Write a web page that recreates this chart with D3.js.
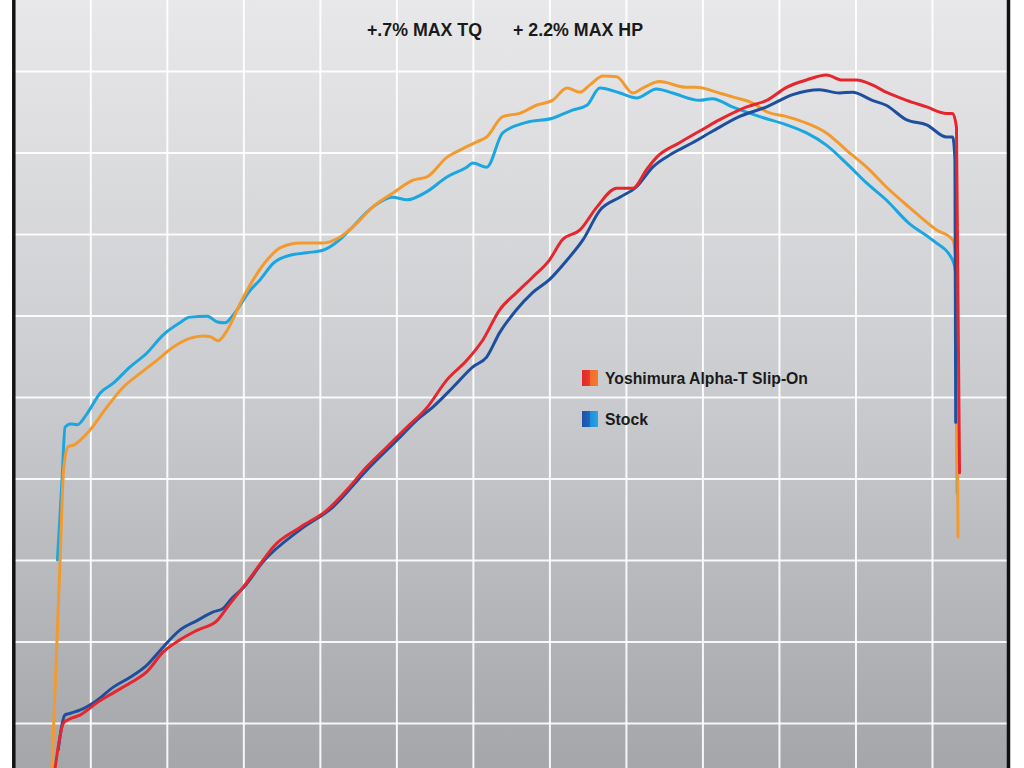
<!DOCTYPE html>
<html>
<head>
<meta charset="utf-8">
<script src="https://cdn.jsdelivr.net/npm/d3@7"></script>
<style>
  html, body { margin: 0; padding: 0; background: #ffffff; }
  svg { display: block; }
</style>
</head>
<body>
<svg id="chart" width="1024" height="768"></svg>
<script>
// ---- DATA (rpm, value) ----
const rpmTicks = [1000, 2000, 3000, 4000, 5000, 6000, 7000, 8000, 9000, 10000, 11000, 12000];
const valueTicks = [0, 10, 20, 30, 40, 50, 60, 70, 80];

const titleTQ = "+.7% MAX TQ";
const titleHP = "+ 2.2% MAX HP";
const legendLabels = ["Yoshimura Alpha-T Slip-On", "Stock"];

const yoshiTQ = [
  [500,-5.5],[610,21.2],[650,31.0],[710,33.9],[780,34.1],[1000,36.0],[1220,38.8],[1430,41.2],
  [1650,42.9],[1870,44.5],[2080,46.1],[2300,47.2],[2470,47.5],[2570,47.4],[2670,46.9],[2790,48.2],
  [2960,51.5],[3130,54.4],[3310,56.8],[3480,58.3],[3740,58.9],[4040,58.9],[4260,59.6],[4480,61.3],
  [4690,63.3],[4950,65.0],[5220,66.6],[5400,67.0],[5660,69.4],[5830,70.3],[6050,71.3],[6180,71.9],
  [6390,74.4],[6610,74.8],[6830,75.8],[7040,76.4],[7230,77.9],[7400,77.4],[7530,78.3],[7700,79.4],
  [7880,79.3],[8090,77.3],[8220,77.9],[8440,78.7],[8790,78.0],[8920,78.0],[9220,77.3],[9440,76.7],
  [9650,76.1],[9840,75.0],[10100,74.4],[10360,73.6],[10620,72.4],[10880,70.3],[11180,67.9],
  [11400,65.8],[11700,63.3],[12060,60.5],[12270,59.3],[12320,56.0],[12340,22.8]
];

const stockTQ = [
  [570,20.0],[630,29.8],[670,36.3],[740,36.7],[830,36.6],[960,38.0],[1130,40.5],[1300,41.7],
  [1520,43.7],[1740,45.4],[1950,47.6],[2170,49.1],[2300,49.8],[2530,49.9],[2660,49.2],[2760,49.1],
  [2870,50.1],[3090,53.1],[3220,54.4],[3390,56.4],[3610,57.4],[3830,57.7],[4040,58.0],[4260,59.3],
  [4390,60.5],[4690,63.3],[4950,64.5],[5140,64.2],[5400,65.2],[5660,67.0],[5920,68.2],[6000,68.7],
  [6180,68.2],[6390,72.4],[6700,73.7],[7040,74.2],[7300,75.2],[7490,75.8],[7660,77.9],[7920,77.3],
  [8140,76.7],[8400,77.8],[8610,77.3],[8960,76.4],[9130,76.6],[9390,75.6],[9750,74.4],[10100,73.4],
  [10360,72.4],[10620,70.9],[10880,68.7],[11140,66.3],[11400,64.2],[11700,61.3],[12000,59.3],
  [12270,56.8],[12320,54.4],[12330,28.2]
];

const yoshiHP = [
  [540,-5.5],[650,0.0],[710,0.4],[870,1.0],[1090,2.5],[1300,3.7],[1520,4.9],[1740,6.3],
  [1950,8.7],[2170,10.2],[2400,11.4],[2660,12.6],[2790,14.2],[3000,16.7],[3260,20.0],[3390,21.6],
  [3740,24.0],[4090,26.1],[4390,29.0],[4610,31.4],[4880,33.9],[5140,36.3],[5400,38.7],[5660,42.1],
  [5920,44.5],[6130,47.0],[6350,50.7],[6570,52.8],[6780,54.7],[7000,56.8],[7170,59.3],[7400,60.5],
  [7620,63.3],[7880,65.6],[8090,65.6],[8270,67.9],[8400,69.4],[8700,71.2],[8960,72.6],[9220,74.0],
  [9580,75.6],[9840,76.4],[10100,78.0],[10360,78.9],[10620,79.5],[10830,78.9],[11010,78.9],
  [11220,78.3],[11400,77.4],[11670,76.4],[11930,75.6],[12190,74.8],[12270,74.8],[12320,73.1],
  [12360,30.7]
];

const stockHP = [
  [580,-3.3],[670,1.0],[740,1.2],[870,1.6],[1090,2.8],[1300,4.4],[1520,5.6],[1740,7.1],
  [1950,9.3],[2170,11.4],[2400,12.6],[2600,13.6],[2740,14.1],[2830,15.1],[3000,16.6],[3260,19.8],
  [3740,23.7],[4170,26.5],[4610,31.0],[5050,35.1],[5270,37.2],[5480,38.8],[5740,41.2],[6000,43.7],
  [6180,44.9],[6350,47.9],[6570,50.7],[6780,52.8],[7000,54.4],[7230,56.8],[7440,59.3],[7660,62.9],
  [7920,64.5],[8140,65.8],[8350,68.2],[8610,69.9],[8870,71.2],[9130,72.6],[9480,74.4],[9840,75.6],
  [10180,77.1],[10530,77.7],[10790,77.3],[10960,77.4],[11220,76.4],[11400,75.8],[11670,74.0],
  [11930,73.4],[12190,71.9],[12270,71.9],[12300,69.1],[12310,36.9]
];

// ---- CHART ----
const W = 1024, H = 768;
const svg = d3.select("#chart");

const x = d3.scaleLinear().domain([0, 13000]).range([13.8, 1008.5]);
const y = d3.scaleLinear().domain([-10, 90]).range([804.5, -10.5]);

const defs = svg.append("defs");
const grad = defs.append("linearGradient").attr("id", "bg")
  .attr("x1", 0).attr("y1", 0).attr("x2", 0).attr("y2", 1);
grad.append("stop").attr("offset", "0%").attr("stop-color", "#e8e8ea");
grad.append("stop").attr("offset", "50%").attr("stop-color", "#cbcccf");
grad.append("stop").attr("offset", "100%").attr("stop-color", "#a5a6aa");

const legGradY = defs.append("linearGradient").attr("id", "legY")
  .attr("x1", 0).attr("y1", 0).attr("x2", 1).attr("y2", 0);
legGradY.append("stop").attr("offset", "0%").attr("stop-color", "#e3262b");
legGradY.append("stop").attr("offset", "50%").attr("stop-color", "#e83a2a");
legGradY.append("stop").attr("offset", "51%").attr("stop-color", "#f36c2b");
legGradY.append("stop").attr("offset", "100%").attr("stop-color", "#f47a30");
const legGradS = defs.append("linearGradient").attr("id", "legS")
  .attr("x1", 0).attr("y1", 0).attr("x2", 1).attr("y2", 0);
legGradS.append("stop").attr("offset", "0%").attr("stop-color", "#1d52a6");
legGradS.append("stop").attr("offset", "50%").attr("stop-color", "#1f66bd");
legGradS.append("stop").attr("offset", "51%").attr("stop-color", "#1d8fdb");
legGradS.append("stop").attr("offset", "100%").attr("stop-color", "#2aa3e6");

// background panel
svg.append("rect")
  .attr("x", x(0)).attr("y", 0)
  .attr("width", x(13000) - x(0)).attr("height", H)
  .attr("fill", "url(#bg)");

// grid
const grid = svg.append("g").attr("class", "grid");
const xAxisGrid = d3.axisBottom(x).tickValues(rpmTicks).tickSize(-H).tickFormat("");
grid.append("g").attr("transform", `translate(0,${H})`).call(xAxisGrid)
  .call(g => g.select(".domain").remove())
  .call(g => g.selectAll("line").attr("stroke", "#ffffff").attr("stroke-width", 2).attr("stroke-opacity", 0.9));
const yAxisGrid = d3.axisLeft(y).tickValues(valueTicks).tickSize(-(x(13000) - x(0))).tickFormat("");
grid.append("g").attr("transform", `translate(${x(0)},0)`).call(yAxisGrid)
  .call(g => g.select(".domain").remove())
  .call(g => g.selectAll("line").attr("stroke", "#ffffff").attr("stroke-width", 2).attr("stroke-opacity", 0.9));

// curves
const line = d3.line()
  .x(d => x(d[0])).y(d => y(d[1]))
  .curve(d3.curveMonotoneX);

const series = [
  { data: stockTQ, color: "#1ba6e0" },
  { data: yoshiTQ, color: "#f39a2f" },
  { data: stockHP, color: "#1e4f9e" },
  { data: yoshiHP, color: "#e5262d" }
];
const clip = defs.append("clipPath").attr("id", "plotclip");
clip.append("rect").attr("x", x(0)).attr("y", 0).attr("width", x(13000) - x(0)).attr("height", H);

svg.append("g").attr("clip-path", "url(#plotclip)")
  .selectAll("path.series")
  .data(series)
  .join("path")
  .attr("class", "series")
  .attr("d", d => line(d.data))
  .attr("fill", "none")
  .attr("stroke", d => d.color)
  .attr("stroke-width", 3)
  .attr("stroke-linejoin", "round")
  .attr("stroke-linecap", "round");

// borders
svg.append("line").attr("x1", x(0)).attr("x2", x(0)).attr("y1", 0).attr("y2", H)
  .attr("stroke", "#111111").attr("stroke-width", 3.5);
svg.append("line").attr("x1", x(13000)).attr("x2", x(13000)).attr("y1", 0).attr("y2", H)
  .attr("stroke", "#111111").attr("stroke-width", 3.5);

// titles
const fontFam = "'Liberation Sans', Arial, sans-serif";
svg.append("text").attr("x", 367).attr("y", 36)
  .attr("font-family", fontFam).attr("font-size", 18).attr("font-weight", "bold")
  .attr("fill", "#1a1a1a").attr("textLength", 115).attr("lengthAdjust", "spacingAndGlyphs")
  .text(titleTQ);
svg.append("text").attr("x", 513).attr("y", 36)
  .attr("font-family", fontFam).attr("font-size", 18).attr("font-weight", "bold")
  .attr("fill", "#1a1a1a").attr("textLength", 130).attr("lengthAdjust", "spacingAndGlyphs")
  .text(titleHP);

// legend
const legend = svg.append("g");
const legItems = [
  { label: legendLabels[0], fill: "url(#legY)", y: 370, tl: 203 },
  { label: legendLabels[1], fill: "url(#legS)", y: 411, tl: 43 }
];
legItems.forEach(it => {
  legend.append("rect").attr("x", 582).attr("y", it.y).attr("width", 16).attr("height", 16)
    .attr("fill", it.fill);
  legend.append("text").attr("x", 605).attr("y", it.y + 14)
    .attr("font-family", fontFam).attr("font-size", 17).attr("font-weight", "bold")
    .attr("fill", "#1a1a1a").attr("textLength", it.tl).attr("lengthAdjust", "spacingAndGlyphs")
    .text(it.label);
});
</script>
</body>
</html>
